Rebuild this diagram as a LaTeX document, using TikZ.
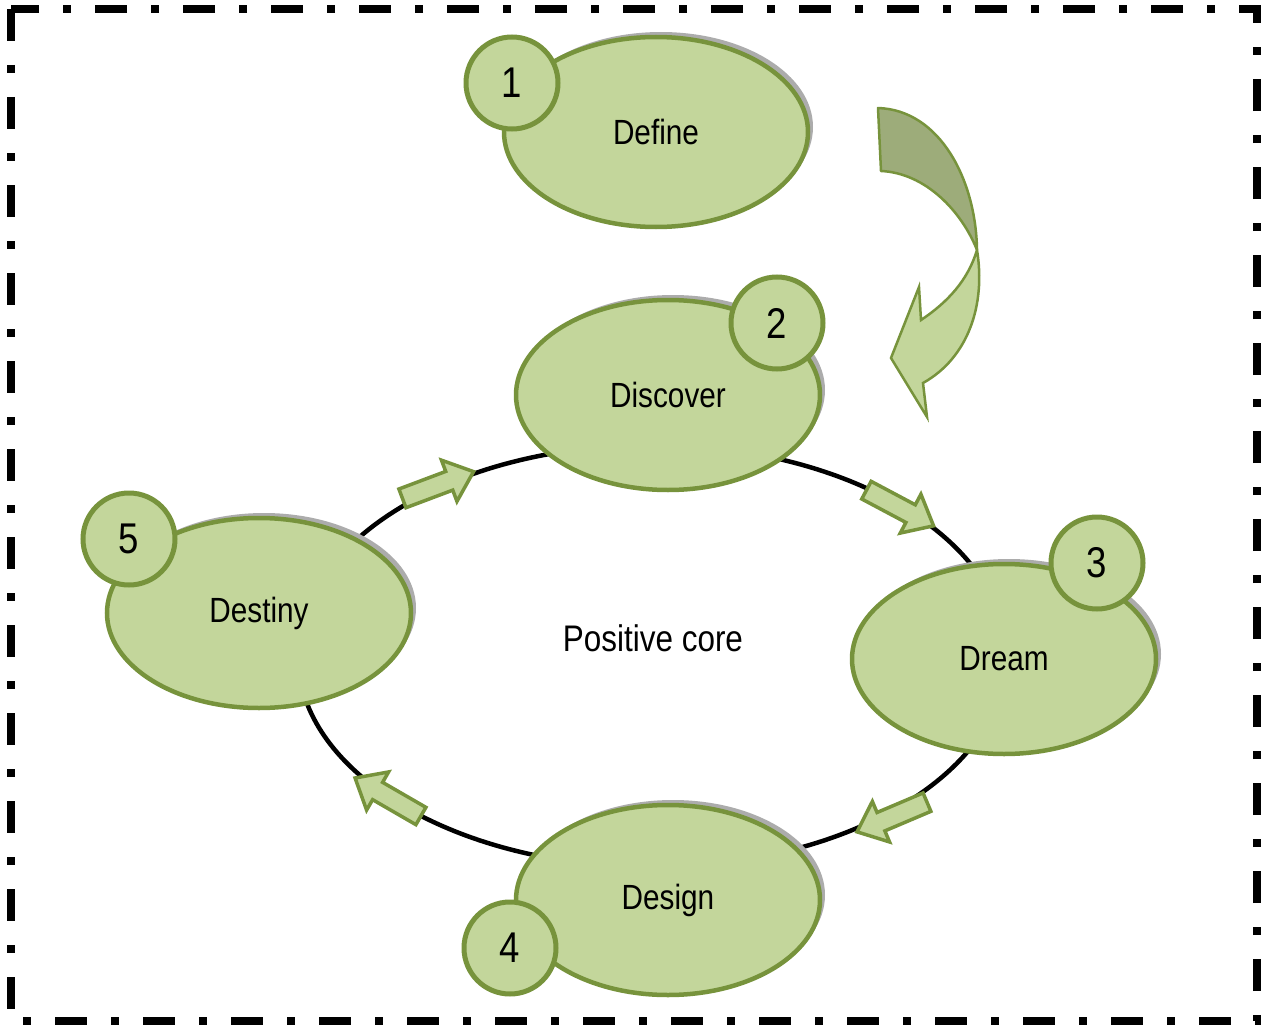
\documentclass[tikz,border=0pt]{standalone}
\usepackage{fontspec}
\setmainfont[FakeStretch=0.85]{Liberation Sans}
\usetikzlibrary{shapes.geometric,shadows}
\definecolor{lgreen}{HTML}{C3D69B}
\definecolor{dgreen}{HTML}{77933C}
\definecolor{mgreen}{HTML}{9DAC7A}
\tikzset{
  stage/.style={ellipse, draw=dgreen, fill=lgreen, line width=4.5pt,
    minimum width=304pt, minimum height=190pt, inner sep=0pt,
    font=\fontsize{35}{40}\selectfont,
    drop shadow={shadow xshift=5pt, shadow yshift=5pt, fill=gray!65, opacity=1}},
  numc/.style={circle, draw=dgreen, fill=lgreen, line width=5pt,
    minimum size=92pt, inner sep=0pt, font=\fontsize{43}{46}\selectfont},
  cyc/.style={ellipse, draw=black, line width=4.5pt, minimum width=708pt, minimum height=422pt, inner sep=0pt},
  blk/.style={draw=dgreen, fill=lgreen, line width=3.5pt, line join=miter},
  barrow/.pic={\draw[blk] (-38,-10) -- (12,-10) -- (12,-22) -- (38,0) -- (12,22) -- (12,10) -- (-38,10) -- cycle;}
}
\begin{document}
\begin{tikzpicture}[x=1pt,y=-1pt]
\useasboundingbox (0,0) rectangle (1262,1025);
% border
\draw[line width=8pt, dash pattern=on 32pt off 24pt on 8pt off 24pt] (11,9) rectangle (1257,1021);
% cycle
\node[cyc] (core) at (652,656) {};
\node[font=\fontsize{37}{42}\selectfont] (pc) at (653,638) {Positive core};
% block arrows on the cycle
\pic[rotate=20.6] at (438,485) {barrow};
\pic[rotate=-28] at (900,508) {barrow};
\pic[rotate=-157] at (892,817) {barrow};
\pic[rotate=150] at (388,797) {barrow};
% stages
\node[stage] (define) at (656,132) {Define};
\node[stage] (discover) at (668,395) {Discover};
\node[stage] (dream) at (1004,659) {Dream};
\node[stage] (design) at (668,900) {Design};
\node[stage] (destiny) at (259,613) {Destiny};
% numbers
\node[numc] (n1) at (512,83) {1};
\node[numc] (n2) at (777,323) {2};
\node[numc] (n3) at (1097,563) {3};
\node[numc] (n4) at (510,948) {4};
\node[numc] (n5) at (129,539) {5};
% curved arrow
\draw[draw=dgreen, fill=mgreen, line width=2.5pt, line join=round]
  (878,108) .. controls (940,110) and (976,180) .. (977,250)
  .. controls (962,212) and (926,173) .. (881,171) -- cycle;
\draw[draw=dgreen, fill=lgreen, line width=2.5pt, line join=miter]
  (977,250) .. controls (986,305) and (968,358) .. (923,383)
  -- (927,417) -- (891,358) -- (919,287) -- (921,320)
  .. controls (948,302) and (968,280) .. (977,250) -- cycle;
\end{tikzpicture}
\end{document}
